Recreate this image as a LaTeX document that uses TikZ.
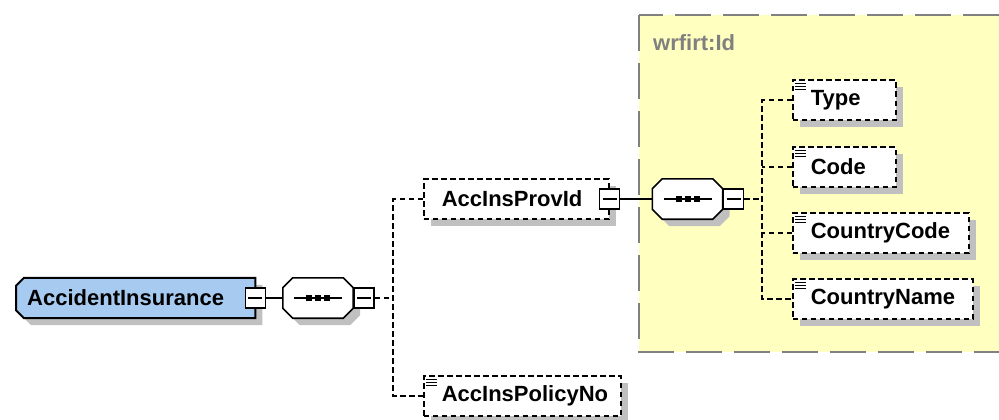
\documentclass[tikz,border=0pt]{standalone}
\usepackage{fontspec}
\setmainfont{Liberation Sans}
\usetikzlibrary{shadows}

\definecolor{rootblue}{RGB}{166,202,240}
\definecolor{groupyellow}{RGB}{255,255,192}
\definecolor{shadowgray}{RGB}{192,192,192}
\definecolor{groupgray}{RGB}{128,128,128}

\pgfdeclarelayer{background}
\pgfsetlayers{background,main}

\tikzset{
  boxshadow/.style={drop shadow={shadow xshift=7pt, shadow yshift=-7pt, fill=shadowgray, opacity=1}},
  labelfont/.style={font=\bfseries\fontsize{22}{26}\selectfont},
  rootelem/.style={labelfont, minimum height=40pt, inner xsep=11pt, inner ysep=2pt, align=left, anchor=west},
  rootshape/.style={draw, line width=2pt, fill=rootblue, boxshadow},
  elem/.style={draw, line width=1.6pt, dash pattern=on 5.5pt off 3.5pt, fill=white, boxshadow, labelfont,
    minimum height=40pt, inner xsep=18pt, inner ysep=2pt, align=left, anchor=west},
  seqbox/.style={minimum width=70pt, minimum height=40pt, inner sep=0pt},
  seqshape/.style={draw, line width=1.6pt, fill=white, boxshadow},
  minusbox/.style={draw, fill=white, line width=1.6pt, minimum size=20pt, inner sep=0pt,
    path picture={\draw[line width=1.6pt] ([xshift=-7pt]path picture bounding box.center)
      -- ([xshift=7pt]path picture bounding box.center);}},
  link/.style={line width=1.6pt},
  optlink/.style={line width=1.6pt, dash pattern=on 5.5pt off 3.5pt},
  groupbox/.style={draw=groupgray, line width=1.6pt, dash pattern=on 36pt off 12pt, fill=groupyellow},
}

% outline with all four corners cut
\newcommand{\octagonpath}[2]{%
  ([xshift=#2]#1.north west) -- ([xshift=-#2]#1.north east) -- ([yshift=-#2]#1.north east)
  -- ([yshift=#2]#1.south east) -- ([xshift=-#2]#1.south east) -- ([xshift=#2]#1.south west)
  -- ([yshift=#2]#1.south west) -- ([yshift=-#2]#1.north west) -- cycle}
% outline with the two left corners cut
\newcommand{\leftcutpath}[2]{%
  ([xshift=#2]#1.north west) -- (#1.north east) -- (#1.south east) -- ([xshift=#2]#1.south west)
  -- ([yshift=#2]#1.south west) -- ([yshift=-#2]#1.north west) -- cycle}
% three small lines for a simple content element
\newcommand{\simpleicon}[1]{%
  \foreach \k in {0,1,2}
    \draw[line width=1.1pt] ([xshift=3pt, yshift={-(4.5+3*\k)*1pt}]#1.north west) -- ++(11pt,0);
}
% line with three dots inside a sequence box
\newcommand{\seqdots}[1]{%
  \draw[line width=1.6pt] ([xshift=-24pt]#1.center) -- ([xshift=24pt]#1.center);
  \foreach \dx in {-9,0,9}
    \fill ([xshift={(\dx-3)*1pt}, yshift=-3pt]#1.center) rectangle ++(6pt,6pt);
}

\begin{document}
\begin{tikzpicture}[x=1pt, y=-1pt]
  \useasboundingbox (0,0) rectangle (999,420);

  % group of the id type
  \begin{pgfonlayer}{background}
    \draw [groupbox] (639,15) rectangle (1010,352);
  \end{pgfonlayer}
  \node [labelfont, text=groupgray, anchor=west, inner sep=0pt] (grouplabel) at (653,43) {wrfirt:Id};

  % root element and its sequence
  \node [rootelem, text width=217pt] (root) at (16,298) {AccidentInsurance};
  \node [minusbox] (rootminus) at (root.east) {};
  \node [seqbox] (seqroot) at (318,298) {};
  \node [minusbox, anchor=west] (seqrootminus) at (seqroot.east) {};
  \coordinate (branchroot) at (393,298);

  % children of the root
  \node [elem, text width=149pt] (provid) at (423,199) {AccInsProvId};
  \node [minusbox] (providminus) at (provid.east) {};
  \node [elem, text width=161pt] (policyno) at (423,396) {AccInsPolicyNo};
  \simpleicon{policyno}

  % sequence inside AccInsProvId
  \node [seqbox] (seqprov) at (687.5,199) {};
  \node [minusbox, anchor=west] (seqprovminus) at (seqprov.east) {};
  \coordinate (branchprov) at (762,199);

  \node [elem, text width=67pt] (type) at (792,100) {Type};
  \node [elem, text width=67pt] (code) at (792,167) {Code};
  \node [elem, text width=140pt] (countrycode) at (792,233) {CountryCode};
  \node [elem, text width=144pt] (countryname) at (792,299) {CountryName};
  \simpleicon{type}
  \simpleicon{code}
  \simpleicon{countrycode}
  \simpleicon{countryname}

  \begin{pgfonlayer}{background}
    \draw [rootshape] \leftcutpath{root}{8pt};
    \draw [seqshape] \octagonpath{seqroot}{10pt};
    \draw [seqshape] \octagonpath{seqprov}{10pt};
  \end{pgfonlayer}
  \seqdots{seqroot}
  \seqdots{seqprov}

  % connectors
  \draw [link] (rootminus.east) -- (seqroot.west);
  \draw [optlink] (seqrootminus.east) -- (branchroot);
  \draw [optlink] (provid.west) -| (branchroot) |- (policyno.west);

  \draw [link] (providminus.east) -- (seqprov.west);
  \draw [optlink] (seqprovminus.east) -- (branchprov);
  \draw [optlink] (type.west) -| (branchprov) |- (countryname.west);
  \draw [optlink] (code.west) -- (code.west -| branchprov);
  \draw [optlink] (countrycode.west) -- (countrycode.west -| branchprov);
\end{tikzpicture}
\end{document}
